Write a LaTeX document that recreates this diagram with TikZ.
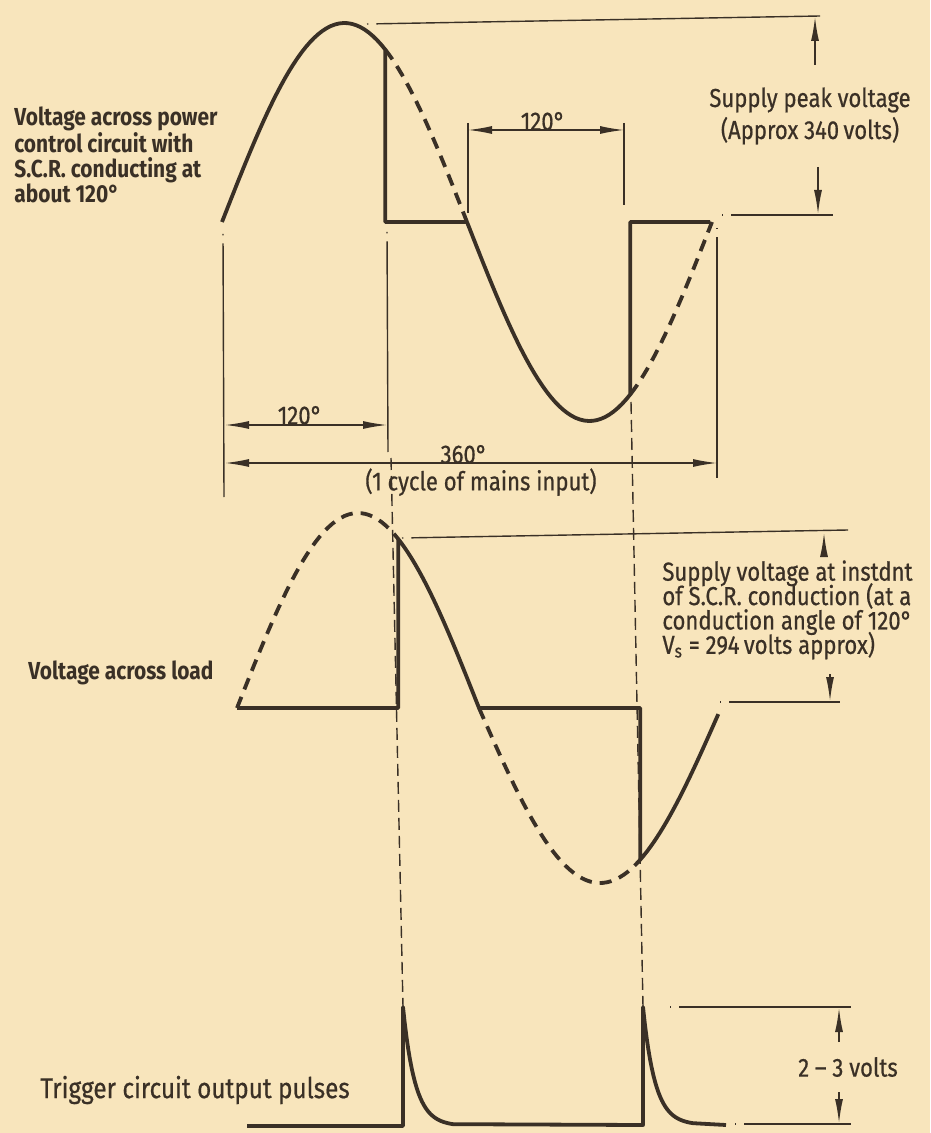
\documentclass[tikz,border=0pt]{standalone}
\usepackage{fontspec}
\setmainfont{Fira Sans}[FakeStretch=0.85, UprightFeatures={FakeBold=0.6}]
\usetikzlibrary{arrows.meta}
\definecolor{paper}{RGB}{248,229,188}
\definecolor{ink}{RGB}{58,48,38}
\newcommand{\tightlines}{\lineskiplimit=-8pt\relax}

\begin{document}
\begin{tikzpicture}[x=0.5pt,y=-0.5pt,
    wave/.style={ink, line width=1.9pt, line join=round},
    wavedash/.style={wave, dash pattern=on 6pt off 4pt},
    dimline/.style={ink, line width=0.7pt},
    chain/.style={dimline, dash pattern=on 0.7pt off 4pt on 2000pt},
    guide/.style={dimline, dash pattern=on 6pt off 3pt},
    dimarrow/.style={dimline, {Latex[length=12pt,width=4pt]}-{Latex[length=12pt,width=4pt]}},
    tiparrow/.style={dimline, -{Latex[length=12pt,width=4pt]}},
    lbl/.style={ink, inner sep=1pt, align=left, font=\fontsize{13}{12.2}\selectfont\tightlines},
    boldlbl/.style={lbl, font=\fontsize{12.3}{12.5}\selectfont\bfseries}
]
    \useasboundingbox (0,0) rectangle (930,1133);
    \fill[paper] (0,0) rectangle (930,1133);

    % voltage across power control circuit
    \draw[wave] plot[domain=0:120,samples=40] ({222+1.3611*\x},{222-199*sin(\x)})
        -- (385.3,222) -- (467,222)
        -- plot[domain=180:300,samples=40] ({222+1.3611*\x},{222-199*sin(\x)})
        -- (630.3,222) -- (710,222);
    \draw[wavedash] plot[domain=120:180,samples=25] ({222+1.3611*\x},{222-199*sin(\x)});
    \draw[wavedash] plot[domain=300:360,samples=25] ({222+1.3611*\x},{222-199*sin(\x)});

    % voltage across load
    \draw[wavedash] plot[domain=0:120,samples=40] ({237+1.3444*\x},{708-195*sin(\x)});
    \draw[wavedash] plot[domain=180:300,samples=40] ({237+1.3444*\x},{708-175*sin(\x)});
    \draw[wave] (237,708) -- (398.3,708)
        -- plot[domain=120:180,samples=25] ({237+1.3444*\x},{708-195*sin(\x)})
        -- (640.3,708)
        -- plot[domain=300:358,samples=25] ({237+1.3444*\x},{708-175*sin(\x)});

    % trigger pulses
    \draw[wave] (247,1126) -- (403,1126) -- (403,1007)
        -- plot[domain=0:50,samples=30] ({403+\x},{1126-119*exp(-\x/12)})
        -- (643,1125) -- (643,1007)
        -- plot[domain=0:50,samples=30] ({643+\x},{1125-118*exp(-\x/12)})
        -- (726,1125);

    % firing instants
    \coordinate (g1top) at (391,458);
    \coordinate (g1bot) at (403,1007);
    \coordinate (g2top) at (631,402);
    \coordinate (g2bot) at (643,1007);
    \draw[guide] (g1top) -- (g1bot);
    \draw[guide] (g2top) -- (g2bot);

    % angle dimensions
    \coordinate (e0top) at (223,234);
    \coordinate (e0bot) at (224,497);
    \coordinate (e1top) at (387,232);
    \coordinate (e1bot) at (388,452);
    \coordinate (e2top) at (717,228);
    \coordinate (e2bot) at (717,478);
    \coordinate (e3top) at (468,123);
    \coordinate (e3bot) at (468,213);
    \coordinate (e4top) at (624,123);
    \coordinate (e4bot) at (624,205);
    \draw[chain] (e0top) -- (e0bot);
    \draw[chain] (e1top) -- (e1bot);
    \draw[chain] (e2top) -- (e2bot);
    \draw[dimline] (e3top) -- (e3bot);
    \draw[dimline] (e4top) -- (e4bot);

    \coordinate (a1l) at (225,425);
    \coordinate (a1r) at (387,425);
    \coordinate (a2l) at (225,463);
    \coordinate (a2r) at (717,463);
    \coordinate (a3l) at (468,130);
    \coordinate (a3r) at (624,130);
    \draw[dimarrow] (a1l) -- (a1r);
    \draw[dimarrow] (a2l) -- (a2r);
    \draw[dimarrow] (a3l) -- (a3r);
    \node[lbl, above, inner sep=0.5pt] (ang1) at (300,426) {120°};
    \node[lbl, above, inner sep=0.5pt] (ang2) at (464,465) {360°};
    \node[lbl, below, inner sep=0.5pt] (cyc) at (481,467) {(1 cycle of mains input)};
    \node[lbl, above, inner sep=0.5pt] (ang3) at (543,132) {120°};

    % supply peak voltage
    \coordinate (pk1) at (367,24);
    \coordinate (pk2) at (820,16);
    \coordinate (pk3) at (722,215);
    \coordinate (pk4) at (833,215);
    \draw[chain] (pk1) -- (pk2);
    \draw[chain] (pk3) -- (pk4);
    \coordinate (pkup0) at (815,65);
    \coordinate (pkup1) at (815,17);
    \coordinate (pkdn0) at (818,167);
    \coordinate (pkdn1) at (818,214);
    \draw[tiparrow] (pkup0) -- (pkup1);
    \draw[tiparrow] (pkdn0) -- (pkdn1);
    \node[lbl, align=center, font=\fontsize{13}{16}\selectfont] (peak) at (810,116)
        {Supply peak voltage\\(Approx 340\,volts)};

    % supply voltage at firing
    \coordinate (vs1) at (402,538);
    \coordinate (vs2) at (848,530);
    \coordinate (vs3) at (720,702);
    \coordinate (vs4) at (840,702);
    \draw[chain] (vs1) -- (vs2);
    \draw[chain] (vs3) -- (vs4);
    \coordinate (vsup0) at (824,556);
    \coordinate (vsup1) at (824,533);
    \coordinate (vsdn0) at (830,674);
    \coordinate (vsdn1) at (830,701);
    \draw[tiparrow] (vsup0) -- (vsup1);
    \draw[tiparrow] (vsdn0) -- (vsdn1);
    \node[lbl, anchor=north west] (vs) at (660,558)
        {Supply voltage at instdnt\\of S.C.R. conduction (at a\\conduction angle of 120°\\V\textsubscript{s} = 294\,volts approx)};

    % pulse height
    \coordinate (ph1) at (670,1007);
    \coordinate (ph2) at (851,1007);
    \coordinate (ph3) at (735,1124);
    \coordinate (ph4) at (851,1124);
    \draw[chain] (ph1) -- (ph2);
    \draw[chain] (ph3) -- (ph4);
    \coordinate (phup0) at (839,1042);
    \coordinate (phup1) at (839,1008);
    \coordinate (phdn0) at (839,1092);
    \coordinate (phdn1) at (839,1123);
    \draw[tiparrow] (phup0) -- (phup1);
    \draw[tiparrow] (phdn0) -- (phdn1);
    \node[lbl] (ph) at (848,1067) {2 -- 3 volts};

    % trace names
    \node[boldlbl, anchor=north west] (power) at (12,104)
        {Voltage across power\\control circuit with\\S.C.R. conducting at\\about 120°};
    \node[boldlbl, anchor=west] (load) at (26,673) {Voltage across load};
    \node[lbl, anchor=west, font=\fontsize{14.3}{15}\selectfont] (trig) at (38,1090) {Trigger circuit output pulses};
\end{tikzpicture}
\end{document}
